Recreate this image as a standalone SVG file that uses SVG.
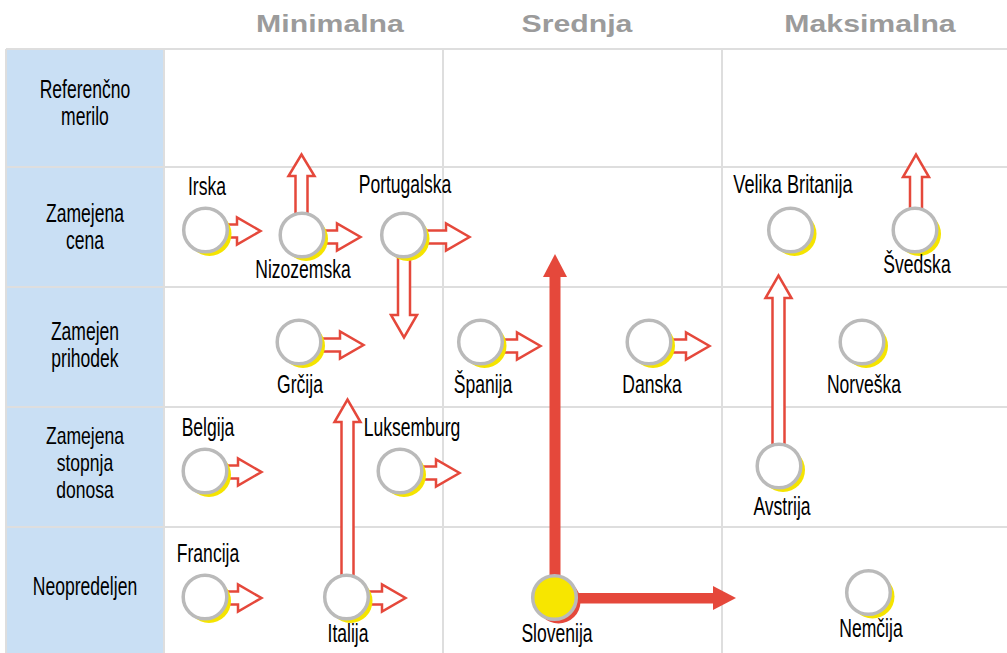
<svg xmlns="http://www.w3.org/2000/svg" width="1007" height="653" viewBox="0 0 1007 653">
  <style>
    .grid { stroke: #dedede; stroke-width: 2; fill: none; }
    .h { font-family: "Liberation Sans", Arial, sans-serif; font-weight: bold; font-size: 24px; fill: #9b9b9b; text-anchor: middle; }
    .t { font-family: "Liberation Sans", Arial, sans-serif; font-size: 26px; fill: #000; text-anchor: middle; }
    .t3 { font-size: 23px; }
    .sh { fill: #f5e400; }
    .c { fill: #fff; stroke: #bababa; stroke-width: 3.5; }
    .arr { fill: #fff; stroke: #e5483b; stroke-width: 2.5; stroke-linejoin: miter; }
    .big { fill: #e5483b; }
  </style>

  <rect width="1007" height="653" fill="#fff"/>

  <!-- column headings -->
  <g id="headings">
    <text class="h" transform="translate(330 32) scale(1.26 1)">Minimalna</text>
    <text class="h" transform="translate(577 32) scale(1.26 1)">Srednja</text>
    <text class="h" transform="translate(870 32) scale(1.26 1)">Maksimalna</text>
  </g>

  <!-- row heading column and grid -->
  <rect x="6" y="49" width="158" height="604" fill="#c9dff4"/>
  <g id="grid" class="grid">
    <line x1="6" y1="49" x2="1007" y2="49"/>
    <line x1="6" y1="167" x2="1007" y2="167"/>
    <line x1="6" y1="287" x2="1007" y2="287"/>
    <line x1="6" y1="407" x2="1007" y2="407"/>
    <line x1="6" y1="527" x2="1007" y2="527"/>
    <line x1="6" y1="49" x2="6" y2="653"/>
    <line x1="164" y1="49" x2="164" y2="653"/>
    <line x1="443" y1="49" x2="443" y2="653"/>
    <line x1="722" y1="49" x2="722" y2="653"/>
  </g>

  <g id="row-labels">
    <text class="t" transform="translate(85 98) scale(0.675 1)">Referenčno</text>
    <text class="t" transform="translate(85 125) scale(0.675 1)">merilo</text>
    <text class="t" transform="translate(85 222) scale(0.675 1)">Zamejena</text>
    <text class="t" transform="translate(85 249) scale(0.675 1)">cena</text>
    <text class="t" transform="translate(85 340) scale(0.675 1)">Zamejen</text>
    <text class="t" transform="translate(85 367) scale(0.675 1)">prihodek</text>
    <text class="t t3" transform="translate(85 444) scale(0.763 1)">Zamejena</text>
    <text class="t t3" transform="translate(85 471) scale(0.763 1)">stopnja</text>
    <text class="t t3" transform="translate(85 498) scale(0.763 1)">donosa</text>
    <text class="t" transform="translate(85 595) scale(0.675 1)">Neopredeljen</text>
  </g>

  <!-- connectors: hollow shift arrows and the solid Slovenia arrows -->
  <g id="connectors">
    <!-- rightward -->
    <polygon class="arr" points="205,224.5 237,224.5 237,217.5 260.5,231 237,244.5 237,237.5 205,237.5"/>
    <polygon class="arr" points="302,230.5 337,230.5 337,223.5 360.5,237 337,250.5 337,243.5 302,243.5"/>
    <polygon class="arr" points="403,230.5 446,230.5 446,223.5 469.5,237 446,250.5 446,243.5 403,243.5"/>
    <polygon class="arr" points="299,338.5 340,338.5 340,331.5 363.5,345 340,358.5 340,351.5 299,351.5"/>
    <polygon class="arr" points="480,339.5 517,339.5 517,332.5 540.5,346 517,359.5 517,352.5 480,352.5"/>
    <polygon class="arr" points="649,339.5 686,339.5 686,332.5 709.5,346 686,359.5 686,352.5 649,352.5"/>
    <polygon class="arr" points="205,465.5 238,465.5 238,458.5 261.5,472 238,485.5 238,478.5 205,478.5"/>
    <polygon class="arr" points="400,466.5 436,466.5 436,459.5 459.5,473 436,486.5 436,479.5 400,479.5"/>
    <polygon class="arr" points="205,591.5 238,591.5 238,584.5 261.5,598 238,611.5 238,604.5 205,604.5"/>
    <polygon class="arr" points="346,591.5 382,591.5 382,584.5 405.5,598 382,611.5 382,604.5 346,604.5"/>
    <!-- upward / downward -->
    <polygon class="arr" points="295.5,235 295.5,176 288.5,176 301.5,154.5 314.5,176 307.5,176 307.5,235"/>
    <polygon class="arr" points="910,230 910,177 903,177 916,154.5 929,177 922,177 922,230"/>
    <polygon class="arr" points="398,235 398,315 391,315 404,337.5 417,315 410,315 410,235"/>
    <polygon class="arr" points="341.5,597 341.5,422 334.5,422 347.5,399.5 360.5,422 353.5,422 353.5,597"/>
    <polygon class="arr" points="772.5,466 772.5,298 765.5,298 778.5,275.5 791.5,298 784.5,298 784.5,466"/>
    <!-- Slovenia -->
    <rect class="big" x="549.5" y="276" width="11" height="322"/>
    <polygon class="big" points="543,277 567,277 555,254"/>
    <rect class="big" x="555" y="593" width="159" height="10.5"/>
    <polygon class="big" points="713,586 736,598 713,610"/>
  </g>

  <!-- countries -->
  <g id="irska">
    <circle class="sh" cx="209.5" cy="234" r="22"/>
    <circle class="c" cx="205.5" cy="230" r="21.8"/>
    <text class="t" transform="translate(207 195) scale(0.675 1)">Irska</text>
  </g>
  <g id="nizozemska">
    <circle class="sh" cx="306" cy="239" r="22"/>
    <circle class="c" cx="302" cy="235" r="21.8"/>
    <text class="t" transform="translate(303 278) scale(0.675 1)">Nizozemska</text>
  </g>
  <g id="portugalska">
    <circle class="sh" cx="407.5" cy="239" r="22"/>
    <circle class="c" cx="403.5" cy="235" r="21.8"/>
    <text class="t" transform="translate(405 193) scale(0.675 1)">Portugalska</text>
  </g>
  <g id="velika-britanija">
    <circle class="sh" cx="794.5" cy="234" r="22"/>
    <circle class="c" cx="790.5" cy="230" r="21.8"/>
    <text class="t" transform="translate(793 193) scale(0.7 1)">Velika Britanija</text>
  </g>
  <g id="svedska">
    <circle class="sh" cx="919" cy="234" r="22"/>
    <circle class="c" cx="915" cy="230" r="21.8"/>
    <text class="t" transform="translate(917 273) scale(0.675 1)">Švedska</text>
  </g>
  <g id="grcija">
    <circle class="sh" cx="303" cy="346" r="22"/>
    <circle class="c" cx="299" cy="342" r="21.8"/>
    <text class="t" transform="translate(300 393) scale(0.675 1)">Grčija</text>
  </g>
  <g id="spanija">
    <circle class="sh" cx="484.5" cy="346" r="22"/>
    <circle class="c" cx="480.5" cy="342" r="21.8"/>
    <text class="t" transform="translate(483 393) scale(0.675 1)">Španija</text>
  </g>
  <g id="danska">
    <circle class="sh" cx="653" cy="346" r="22"/>
    <circle class="c" cx="649" cy="342" r="21.8"/>
    <text class="t" transform="translate(652 393) scale(0.675 1)">Danska</text>
  </g>
  <g id="norveska">
    <circle class="sh" cx="866" cy="346" r="22"/>
    <circle class="c" cx="862" cy="342" r="21.8"/>
    <text class="t" transform="translate(864 393) scale(0.675 1)">Norveška</text>
  </g>
  <g id="belgija">
    <circle class="sh" cx="209" cy="475" r="22"/>
    <circle class="c" cx="205" cy="471" r="21.8"/>
    <text class="t" transform="translate(208 436) scale(0.675 1)">Belgija</text>
  </g>
  <g id="luksemburg">
    <circle class="sh" cx="404" cy="475" r="22"/>
    <circle class="c" cx="400" cy="471" r="21.8"/>
    <text class="t" transform="translate(412 436) scale(0.675 1)">Luksemburg</text>
  </g>
  <g id="avstrija">
    <circle class="sh" cx="783" cy="470" r="22"/>
    <circle class="c" cx="779" cy="466" r="21.8"/>
    <text class="t" transform="translate(782 515) scale(0.675 1)">Avstrija</text>
  </g>
  <g id="francija">
    <circle class="sh" cx="209" cy="601" r="22"/>
    <circle class="c" cx="205" cy="597" r="21.8"/>
    <text class="t" transform="translate(208 562) scale(0.675 1)">Francija</text>
  </g>
  <g id="italija">
    <circle class="sh" cx="350.5" cy="601" r="22"/>
    <circle class="c" cx="346.5" cy="597" r="21.8"/>
    <text class="t" transform="translate(348 642) scale(0.675 1)">Italija</text>
  </g>
  <g id="slovenija">
    <circle cx="558.5" cy="601.5" r="22" fill="#e5483b"/>
    <circle cx="554.5" cy="597.5" r="21.8" fill="#f7e600" stroke="#bababa" stroke-width="3.5"/>
    <text class="t" transform="translate(557 642) scale(0.675 1)">Slovenija</text>
  </g>
  <g id="nemcija">
    <circle class="sh" cx="872.5" cy="596.5" r="22"/>
    <circle class="c" cx="868.5" cy="592.5" r="21.8"/>
    <text class="t" transform="translate(871 637) scale(0.675 1)">Nemčija</text>
  </g>
</svg>
